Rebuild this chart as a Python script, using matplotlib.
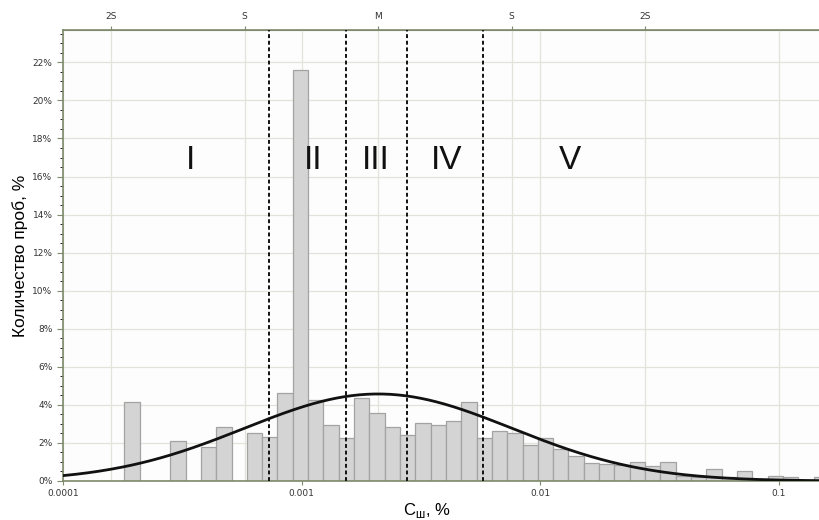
import numpy as np
import matplotlib.pyplot as plt
from matplotlib.ticker import FixedLocator, MultipleLocator, FuncFormatter, NullLocator

# histogram: log10 of first bin edge, bin width in decades, bar heights (%)
bin_start = -3.743
bin_width = 0.0642
counts = [4.16, 0, 0, 2.1, 0, 1.77, 2.85, 0, 2.52, 2.31,
          4.6, 21.6, 4.24, 2.94, 2.27, 4.36, 3.55, 2.85, 2.41, 3.03,
          2.92, 3.13, 4.16, 2.27, 2.62, 2.52, 1.89, 2.27, 1.66, 1.31,
          0.96, 0.91, 0.84, 0.98, 0.79, 0.98, 0.26, 0.19, 0.63, 0.19,
          0.54, 0.05, 0.28, 0.23, 0, 0.19]

# fitted lognormal: mean and std of log10 C
mu = -2.679
sigma = 0.56

# class boundaries and labels
bounds = [0.000731, 0.00154, 0.00277, 0.00577]
zone_names = ['I', 'II', 'III', 'IV', 'V']
zone_x = [0.000341, 0.001117, 0.00205, 0.00407, 0.01336]
zone_y = 16.85

top_labels = ['2S', 'S', 'M', 'S', '2S']
top_k = [-2, -1, 0, 1, 2]

plt.rcParams['font.family'] = ['DejaVu Sans']

fig = plt.figure(figsize=(8.2, 5.2), dpi=100)
ax = fig.add_axes([0.0768, 0.075, 0.9232, 0.8673])
ax.set_facecolor('#fdfdfd')

edges = bin_start + bin_width * np.arange(len(counts) + 1)
lefts = 10 ** edges[:-1]
widths = 10 ** edges[1:] - lefts
ax.bar(lefts, counts, width=widths, align='edge', color='#d4d4d4',
       edgecolor='#a3a3a3', linewidth=0.9, zorder=2)

xs = np.logspace(-4, -0.8, 400)
peak = 100 * bin_width / (sigma * np.sqrt(2 * np.pi))
ys = peak * np.exp(-0.5 * ((np.log10(xs) - mu) / sigma) ** 2)
ax.plot(xs, ys, color='#111111', lw=2, zorder=4)

for b in bounds:
    ax.axvline(b, color='#111111', lw=1.4, ls=(0, (2, 1.4)), zorder=5)

for name, zx in zip(zone_names, zone_x):
    ax.text(zx, zone_y, name, fontsize=24, ha='center', va='center',
            family='Liberation Sans', color='#111111', zorder=6)

ax.set_xscale('log')
ax.set_xlim(1e-4, 0.149)
ax.set_ylim(0, 23.7)

ax.xaxis.set_major_locator(FixedLocator([1e-4, 1e-3, 1e-2, 1e-1]))
ax.xaxis.set_minor_locator(NullLocator())
ax.xaxis.set_major_formatter(FuncFormatter(lambda v, p: ('%g' % v) if v >= 1e-3 else '0.0001'))
ax.yaxis.set_major_locator(MultipleLocator(2))
ax.yaxis.set_minor_locator(MultipleLocator(0.5))
ax.yaxis.set_major_formatter(FuncFormatter(lambda v, p: '%d%%' % v))

spine_c = '#7d8a6c'
for s in ['left', 'top', 'bottom']:
    ax.spines[s].set_color(spine_c)
    ax.spines[s].set_linewidth(1.2)
ax.spines['right'].set_visible(False)

ax.tick_params(axis='both', labelsize=6.5, labelcolor='#333333', color=spine_c)
ax.tick_params(axis='y', which='major', length=4)
ax.tick_params(axis='y', which='minor', length=2.5)
ax.tick_params(axis='x', length=3, pad=3)

ax.grid(True, which='major', color='#e3e3dc', lw=0.9, zorder=0)
ax.set_axisbelow(True)

top = ax.secondary_xaxis('top')
top.xaxis.set_major_locator(FixedLocator([10 ** (mu + k * sigma) for k in top_k]))
top.xaxis.set_minor_locator(NullLocator())
top.xaxis.set_major_formatter(FuncFormatter(lambda v, p: top_labels[p]))
top.tick_params(labelsize=6.5, labelcolor='#333333', color=spine_c, length=3)
top.spines['top'].set_color(spine_c)
for k in top_k:
    ax.axvline(10 ** (mu + k * sigma), color='#e3e3dc', lw=0.9, zorder=0)

ax.set_ylabel('Количество проб, %', fontsize=12.5, family='Liberation Sans')
ax.yaxis.set_label_coords(-0.046, 0.5)
ax.set_xlabel(r'C$_{\mathregular{ш}}$, %', fontsize=12, family='Liberation Sans')
ax.xaxis.set_label_coords(0.481, -0.045, transform=ax.transAxes)
ax.xaxis.label.set_va('top')

fig.savefig('out.png', dpi=100, facecolor='white')
